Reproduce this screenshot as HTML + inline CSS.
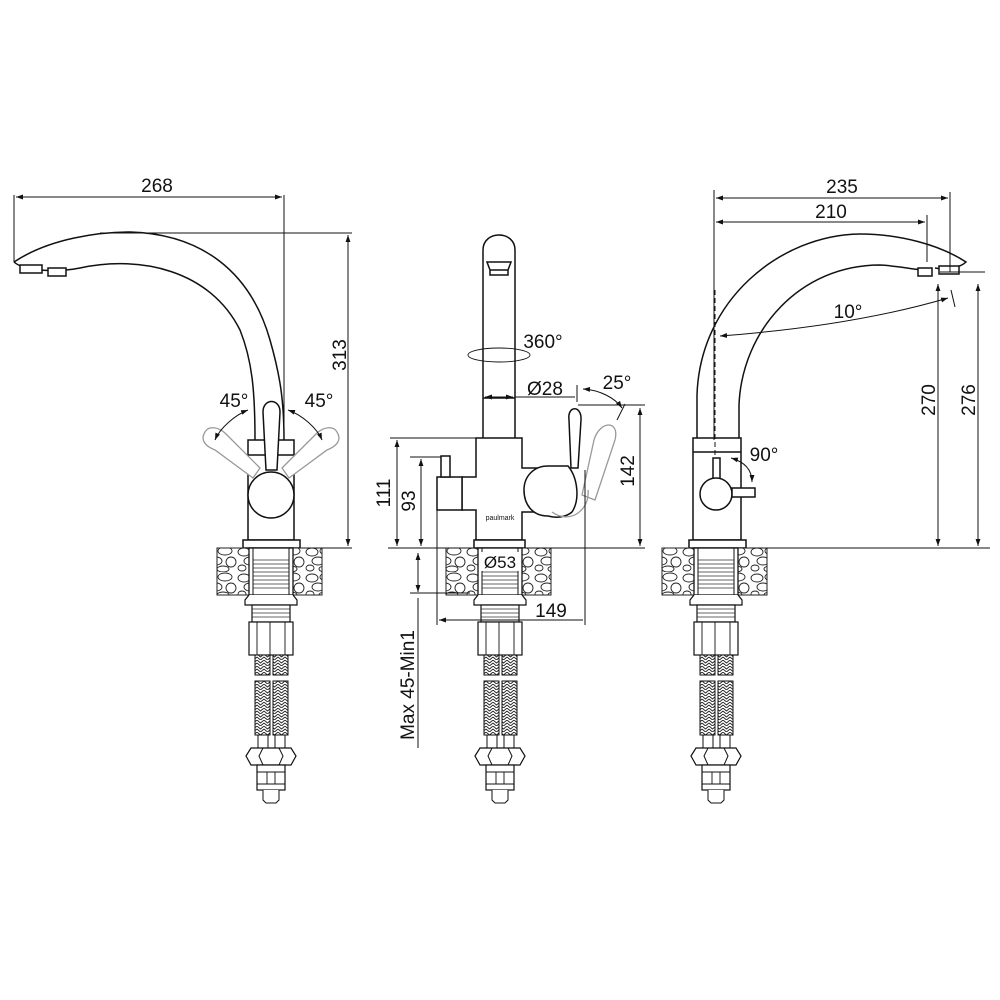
<!DOCTYPE html>
<html><head><meta charset="utf-8"><style>
html,body{margin:0;padding:0;background:#fff;}
svg{display:block;}
text{font-family:"Liberation Sans",sans-serif;fill:#111;}
</style></head><body>
<svg width="1000" height="1000" viewBox="0 0 1000 1000" xmlns="http://www.w3.org/2000/svg">
<defs>
<pattern id="peb" width="34" height="26" patternUnits="userSpaceOnUse">
<rect width="34" height="26" fill="#fff"/>
<g fill="none" stroke="#222" stroke-width="0.9">
<ellipse cx="7" cy="6" rx="6" ry="4"/><ellipse cx="22" cy="5" rx="7" ry="4"/>
<ellipse cx="13" cy="15" rx="6" ry="4"/><ellipse cx="28" cy="16" rx="5" ry="5"/>
<ellipse cx="5" cy="22" rx="4" ry="3"/><ellipse cx="20" cy="23" rx="6" ry="3"/>
</g></pattern>
<pattern id="braid" width="7" height="6" patternUnits="userSpaceOnUse">
<rect width="7" height="6" fill="#fff"/>
<path d="M0 0 L3.5 3 L7 0 M0 3 L3.5 6 L7 3" fill="none" stroke="#222" stroke-width="0.9"/>
</pattern>
<marker id="a" viewBox="0 0 10 10" refX="10" refY="5" markerWidth="7" markerHeight="7" orient="auto-start-reverse"><path d="M0 1.5 L10 5 L0 8.5z" fill="#111"/></marker>
<g id="under">
<rect x="-54" y="548" width="105" height="47" fill="url(#peb)" stroke="#222" stroke-width="1"/>
<rect x="-22" y="548" width="44" height="47" fill="#fff" stroke="#111" stroke-width="1.3"/>
<path d="M-18 560H18M-18 564H18M-18 568H18M-18 572H18M-18 576H18M-18 580H18M-18 584H18M-18 588H18" stroke="#333" stroke-width="0.8"/>
<path d="M-18 548V595M18 548V595" stroke="#111" stroke-width="1"/>
<path d="M-22 595 L-26 600 V605 H26 V600 L22 595" fill="#fff" stroke="#111" stroke-width="1.2"/>
<rect x="-19" y="605" width="38" height="17" fill="#fff" stroke="#111" stroke-width="1.2"/>
<path d="M-19 609H19M-19 613H19M-19 617H19" stroke="#333" stroke-width="0.8"/>
<rect x="-22" y="622" width="44" height="33" fill="#fff" stroke="#111" stroke-width="1.2"/>
<path d="M-1 622V655M-14 622V655M14 622V655" stroke="#111" stroke-width="0.9"/>
<rect x="-16" y="655" width="15" height="20" fill="url(#braid)" stroke="#111"/>
<rect x="2" y="655" width="15" height="20" fill="url(#braid)" stroke="#111"/>
<rect x="-16" y="681" width="15" height="54" fill="url(#braid)" stroke="#111"/>
<rect x="2" y="681" width="15" height="54" fill="url(#braid)" stroke="#111"/>
<rect x="-13" y="735" width="10" height="13" fill="#fff" stroke="#111"/>
<rect x="4" y="735" width="10" height="13" fill="#fff" stroke="#111"/>
<path d="M-25 756 L-20 748 H20 L25 756 L20 765 H-20Z" fill="#fff" stroke="#111" stroke-width="1.2"/>
<path d="M-8 748 L-12 756 L-8 765 M8 748 L12 756 L8 765" fill="none" stroke="#111"/>
<rect x="-14" y="765" width="28" height="25" fill="#fff" stroke="#111" stroke-width="1.2"/>
<path d="M-14 772H14M-14 784H14M-4 772V784M4 772V784" stroke="#111" stroke-width="0.9"/>
<path d="M-8 790 V800 L-5 803 H5 L8 800 V790" fill="#fff" stroke="#111"/>
</g>
</defs>

<g fill="none" stroke="#111" stroke-width="1.5">
<!-- LEFT VIEW -->
<path d="M14 262 C50 238 100 232 130 232 C200 234 250 270 270 340 C280 375 284 400 284 440"/>
<path d="M14 262 C25 272 60 272 80 268 C140 255 210 270 240 330 C252 360 255 390 255 440"/>
<rect x="20" y="265" width="22" height="8" fill="#fff"/><rect x="48" y="268" width="18" height="8" fill="#fff"/>
<rect x="248" y="440" width="46" height="100" fill="#fff"/>
<path d="M248 455 H294"/>
<g stroke="#999" stroke-width="1.3" fill="#fff">
<path d="M205 432 C200 440 205 446 215 450 L253 478 L260 468 L226 434 C218 426 208 426 205 432Z"/>
<path d="M337 432 C342 440 337 446 327 450 L289 478 L282 468 L316 434 C324 426 334 426 337 432Z"/>
</g>
<path d="M263 412 C263 398 280 398 280 412 L277 470 H266Z" fill="#fff"/>
<circle cx="271" cy="495" r="23" fill="#fff"/>
<rect x="243" y="540" width="57" height="8" fill="#fff"/>
</g>
<use href="#under" x="271"/>

<g fill="none" stroke="#111" stroke-width="1.5">
<!-- MIDDLE VIEW -->
<path d="M483 440 V250 C483 230 515 230 515 250 V440" fill="#fff"/>
<path d="M487 262 H511 L508 270 H490Z M490 270 H508 V275 H490Z"/>
<path d="M483 398 H515"/>
<path d="M476 438 H522 V468 H548 V512 H522 V540 H476 V510 H462 V477 H476Z" fill="#fff"/>
<rect x="437" y="477" width="25" height="33" fill="#fff"/>
<rect x="441" y="456" width="9" height="21" fill="#fff"/>
<path d="M548 466 H568 C578 478 580 500 572 512 C565 518 555 518 548 516 C532 516 524 504 524 490 C524 476 534 466 548 466Z" fill="#fff"/>
<path d="M569 420 C567 405 582 405 581 420 L578 468 H571Z" fill="#fff"/>
<path d="M594 440 C600 420 620 420 615 440 L595 500 L582 495Z" stroke="#999" stroke-width="1.3"/>
<path d="M552 512 C570 525 590 510 588 490" stroke="#999" stroke-width="1.3"/>
<rect x="474" y="540" width="51" height="8" fill="#fff"/>
</g>
<text x="500" y="520" font-size="7" text-anchor="middle">paulmark</text>
<use href="#under" x="500"/>

<g fill="none" stroke="#111" stroke-width="1.5">
<!-- RIGHT VIEW -->
<path d="M697 440 V395 C700 300 780 235 860 234 C900 234 940 245 966 262 C960 268 945 270 935 268"/>
<path d="M739 440 V405 C742 330 800 265 880 265 C900 266 915 270 925 270"/>
<rect x="918" y="268" width="14" height="8" fill="#fff"/><rect x="939" y="266" width="20" height="8" fill="#fff"/>
<rect x="693" y="438" width="48" height="102" fill="#fff"/>
<path d="M693 452 H741"/>
<path d="M715 290 V480" stroke-dasharray="5 3" stroke-width="1"/>
<rect x="713" y="458" width="7" height="22" fill="#fff"/>
<circle cx="716" cy="494" r="16" fill="#fff"/>
<rect x="732" y="488" width="23" height="9" fill="#fff"/>
<rect x="689" y="540" width="57" height="8" fill="#fff"/>
</g>
<use href="#under" x="716"/>

<!-- DIMENSIONS -->
<g fill="none" stroke="#111" stroke-width="1">
<path d="M14 195 V262 M284 195 V440"/>
<path d="M16 197 H282" marker-start="url(#a)" marker-end="url(#a)"/>
<path d="M100 233 H352 M300 548 H352"/>
<path d="M348 235 V546" marker-start="url(#a)" marker-end="url(#a)"/>
<path d="M248 410 C235 415 220 428 215 440" marker-start="url(#a)" marker-end="url(#a)"/>
<path d="M288 410 C302 415 317 428 322 440" marker-start="url(#a)" marker-end="url(#a)"/>

<path d="M388 548 H645"/>
<path d="M390 438 H476 M410 457 H441"/>
<path d="M397 440 V546" marker-start="url(#a)" marker-end="url(#a)"/>
<path d="M421 459 V546" marker-start="url(#a)" marker-end="url(#a)"/>
<path d="M418 553 V592" marker-start="url(#a)" marker-end="url(#a)"/>
<path d="M410 593 H470 M418 598 V748"/>
<path d="M437 480 V625 M585 470 V625"/>
<path d="M439 620 H583" marker-start="url(#a)"/>
<path d="M485 397 H513" marker-start="url(#a)" marker-end="url(#a)"/>
<path d="M515 397 H575 M577 385 V402"/>
<path d="M578 405 H645"/>
<path d="M640 408 V546" marker-start="url(#a)" marker-end="url(#a)"/>
<path d="M583 389 C600 390 615 398 622 408" marker-start="url(#a)" marker-end="url(#a)"/>
<path d="M625 404 L617 420"/>
<ellipse cx="499" cy="355" rx="31" ry="7" stroke-width="0.9"/>

<path d="M714 190 V440 M950 192 V272 M927 215 V262"/>
<path d="M716 198 H948" marker-start="url(#a)" marker-end="url(#a)"/>
<path d="M716 222 H925" marker-start="url(#a)" marker-end="url(#a)"/>
<path d="M940 272 H985 M741 548 H990"/>
<path d="M938 284 V546" marker-start="url(#a)" marker-end="url(#a)"/>
<path d="M978 284 V546" marker-start="url(#a)" marker-end="url(#a)"/>
<path d="M720 336 C800 330 880 318 948 298" marker-start="url(#a)" marker-end="url(#a)"/>
<path d="M951 290 L955 307"/>
<path d="M731 458 C745 462 752 470 752 482" marker-start="url(#a)" marker-end="url(#a)"/>
</g>

<g font-size="19">
<text x="157" y="192" text-anchor="middle">268</text>
<text transform="translate(346 355) rotate(-90)" text-anchor="middle">313</text>
<text x="234" y="407" text-anchor="middle">45°</text>
<text x="319" y="407" text-anchor="middle">45°</text>
<text x="543" y="348" text-anchor="middle">360°</text>
<text x="545" y="395" text-anchor="middle">Ø28</text>
<text x="617" y="389" text-anchor="middle">25°</text>
<text transform="translate(390 493) rotate(-90)" text-anchor="middle">111</text>
<text transform="translate(415 501) rotate(-90)" text-anchor="middle">93</text>
<text transform="translate(634 471) rotate(-90)" text-anchor="middle">142</text>
<text transform="translate(414 685) rotate(-90)" text-anchor="middle">Max 45-Min1</text>
<text x="551" y="617" text-anchor="middle">149</text>
<text x="842" y="193" text-anchor="middle">235</text>
<text x="831" y="218" text-anchor="middle">210</text>
<text x="848" y="318" text-anchor="middle">10°</text>
<text x="764" y="461" text-anchor="middle">90°</text>
<text transform="translate(935 400) rotate(-90)" text-anchor="middle">270</text>
<text transform="translate(975 400) rotate(-90)" text-anchor="middle">276</text>
</g>
<rect x="481" y="552" width="38" height="19" fill="#fff"/>
<text x="500" y="568" font-size="17" text-anchor="middle">Ø53</text>
</svg>
</body></html>
